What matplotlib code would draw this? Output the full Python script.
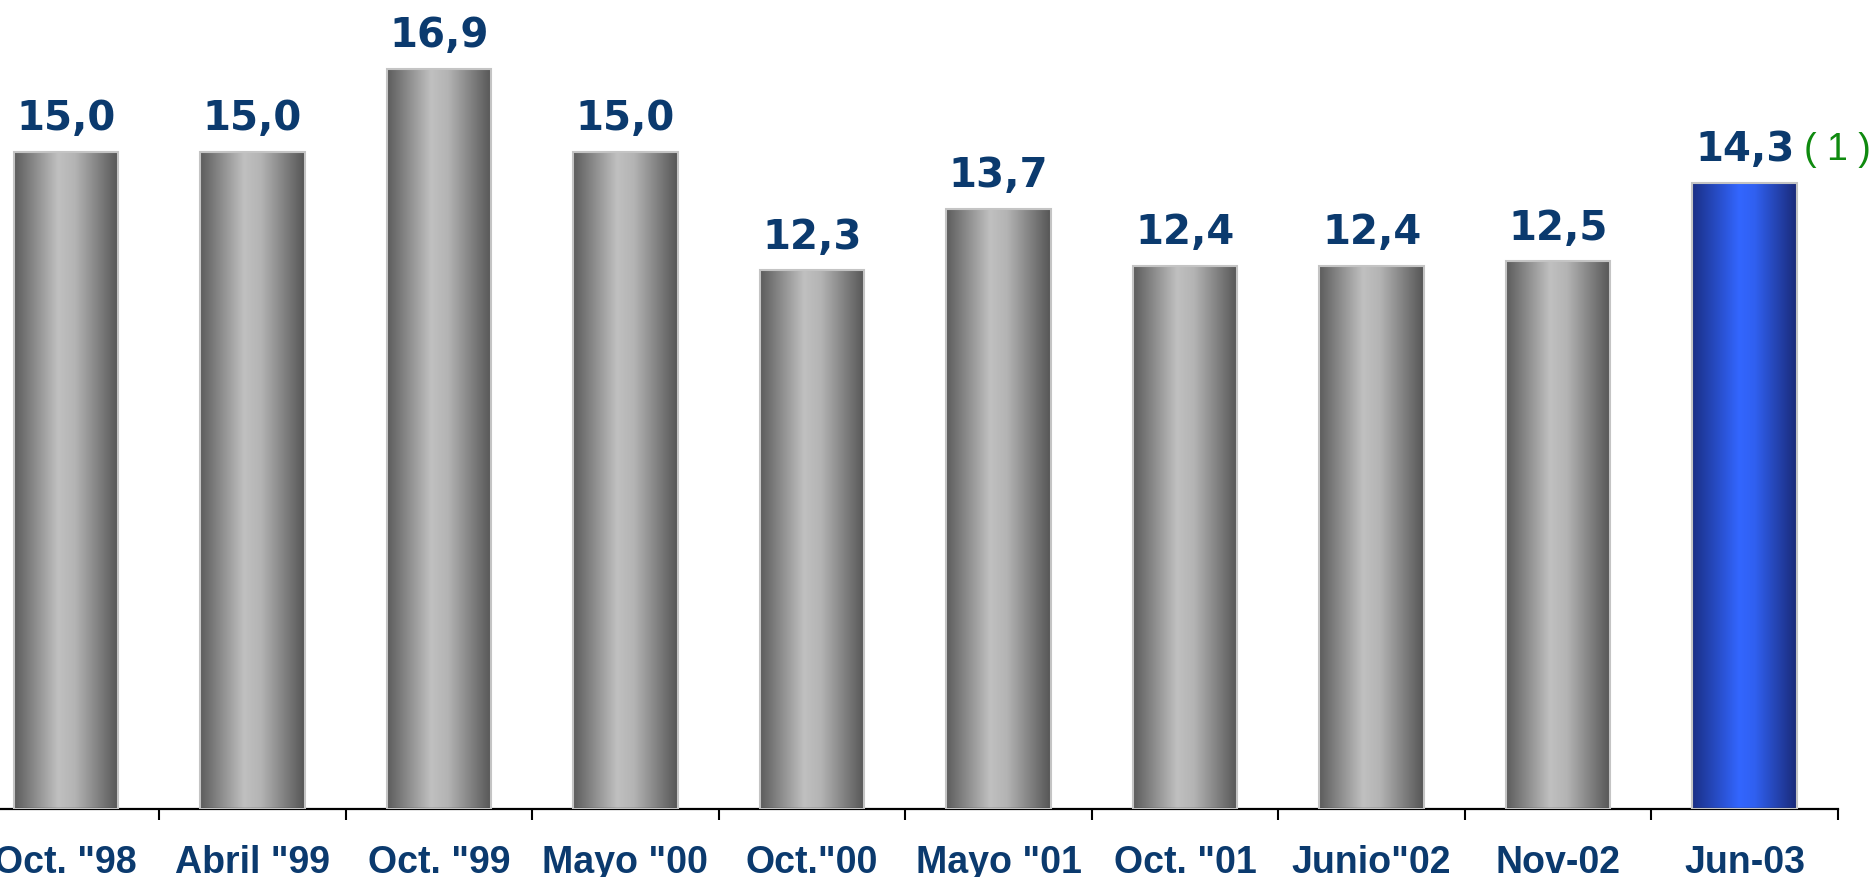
import numpy as np
import matplotlib.pyplot as plt
from matplotlib.colors import LinearSegmentedColormap

categories = ['Oct. "98', 'Abril "99', 'Oct. "99', 'Mayo "00', 'Oct."00',
              'Mayo "01', 'Oct. "01', 'Junio"02', 'Nov-02', 'Jun-03']
values = [15.0, 15.0, 16.9, 15.0, 12.3, 13.7, 12.4, 12.4, 12.5, 14.3]
labels = ['15,0', '15,0', '16,9', '15,0', '12,3', '13,7', '12,4', '12,4', '12,5', '14,3']
note = '( 1 )'

navy = '#0b3a6e'
gray_cm = LinearSegmentedColormap.from_list(
    'gray_cyl', [(0, '#5c5c5c'), (0.42, '#c0c0c0'), (0.58, '#b4b4b4'), (1, '#555555')])
blue_cm = LinearSegmentedColormap.from_list(
    'blue_cyl', [(0, '#1a2f85'), (0.45, '#3366ff'), (0.6, '#3060f0'), (1, '#1a2a78')])

fig = plt.figure(figsize=(18.75, 8.77), dpi=100)
W, H = 1875, 877
ax = fig.add_axes([-27.5 / W, 68.5 / H, (1838 + 27.5) / W, (H - 68.5) / H])

x = np.arange(len(values)) + 0.5
bw = 0.56
bars = ax.bar(x, values, width=bw, color='none', edgecolor='#c4c4c4', linewidth=1.5, zorder=3)

grad = np.linspace(0, 1, 256).reshape(1, -1)
for i, b in enumerate(bars):
    cm = blue_cm if i == len(values) - 1 else gray_cm
    im = ax.imshow(grad, cmap=cm, aspect='auto', zorder=2,
                   extent=[b.get_x(), b.get_x() + bw, 0, b.get_height()])
    im.set_clip_path(b)

for xi, v, lab in zip(x, values, labels):
    ax.annotate(lab, (xi, v), xytext=(0, 9), textcoords='offset points',
                ha='center', va='bottom', fontsize=29, fontweight='bold', color=navy)

# footnote marker next to the last value
ax.annotate(note, (x[-1], values[-1]), xytext=(43, 16), textcoords='offset points',
            ha='left', va='baseline', fontsize=27, color='#0f8a0f',
            family='Liberation Sans')

ax.set_xlim(0, len(values))
ax.set_ylim(0, 808.5 / 43.77)

for s in ['top', 'right', 'left']:
    ax.spines[s].set_visible(False)
ax.spines['bottom'].set_linewidth(1.6)
ax.set_yticks([])

ax.set_xticks(x)
ax.set_xticklabels(categories, fontsize=27, fontweight='bold', color=navy,
                   family='Liberation Sans')
ax.tick_params(axis='x', which='major', length=0, pad=26)
ax.set_xticks(np.arange(len(values) + 1), minor=True)
ax.tick_params(axis='x', which='minor', length=8, width=1.5, direction='out')

fig.savefig('out.png', dpi=100)
